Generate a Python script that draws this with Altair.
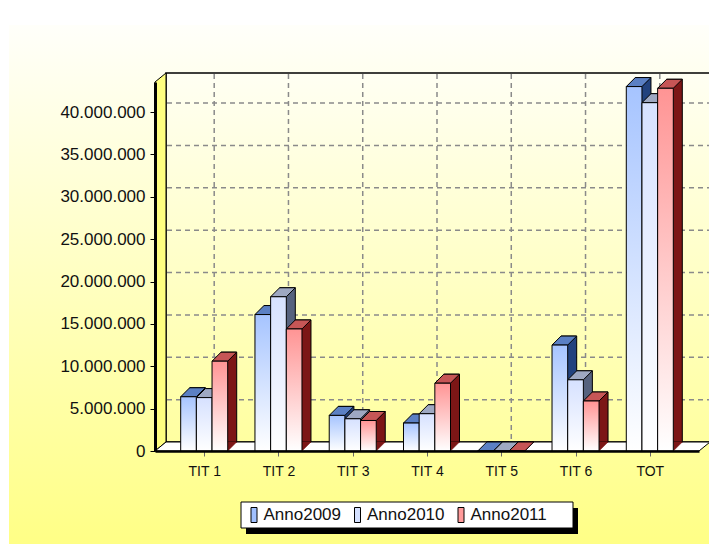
import json
import altair as alt
import pandas as pd

# ---- data ----
categories = ["TIT 1", "TIT 2", "TIT 3", "TIT 4", "TIT 5", "TIT 6", "TOT"]
series = ["Anno2009", "Anno2010", "Anno2011"]
anno2009 = [6400000, 16100000, 4200000, 3300000, 0, 12500000, 43000000]
anno2010 = [6300000, 18200000, 3800000, 4400000, 0, 8400000, 41100000]
anno2011 = [10600000, 14400000, 3600000, 8000000, 0, 5900000, 42800000]
y_ticks = [0, 5000000, 10000000, 15000000, 20000000, 25000000, 30000000, 35000000, 40000000]

front_top = ["#a6c4ff", "#d6e1ff", "#ff9494"]
side_col = ["#22427e", "#56627e", "#7c1616"]
top_col = ["#5b80c4", "#9ea8c2", "#c65656"]
swatch = ["#a0c0ff", "#d4e0ff", "#ff9a9a"]

rows = []
for si, (name, vals) in enumerate(zip(series, [anno2009, anno2010, anno2011])):
    for ci, (c, v) in enumerate(zip(categories, vals)):
        rows.append({"cat": c, "idx": ci, "series": name, "sidx": si, "value": v})
df = pd.DataFrame(rows)
cat_df = pd.DataFrame({"cat": categories, "idx": list(range(len(categories)))})
tick_df = pd.DataFrame({"v": y_ticks[1:]})
one = pd.DataFrame({"k": [0]})

GROUP = 0.633
W, H = 544, 369
D = 9          # bar depth (px)
WX, WY = 11, 9  # wall depth (px)
XDOM = [-0.6625, 6.6625]
BW = W / (XDOM[1] - XDOM[0]) * GROUP / 3   # bar width in px

xscale = alt.Scale(domain=XDOM, nice=False, zero=False)
yscale = alt.Scale(domain=[0, 43540000], nice=False)
FONT = "Liberation Sans"
xaxis = alt.Axis(values=list(range(len(categories))),
                 labelExpr=json.dumps(categories) + "[datum.value]",
                 title=None, grid=False, tickSize=5, tickColor="#666", tickWidth=1,
                 domainColor="black", domainWidth=2.5, labelFontSize=14, labelFont=FONT,
                 labelColor="#111", labelPadding=8, zindex=1)
yaxis = alt.Axis(values=y_ticks, title=None, grid=False, tickSize=5, tickColor="black",
                 domainColor="black", domainWidth=3, labelFontSize=17, labelFont=FONT,
                 labelColor="#111", labelPadding=5, zindex=1,
                 labelExpr="replace(format(datum.value, ','), regexp(',', 'g'), '.')")

def grad(top, bottom):
    return alt.Gradient(gradient="linear",
                        stops=[alt.GradientStop(color=top, offset=0),
                               alt.GradientStop(color=bottom, offset=1)],
                        x1=0, x2=0, y1=0, y2=1)

def poly(path, fill, stroke="black", sw=1):
    # custom symbol path drawn at 1px per unit (size 4 -> scale 1)
    return dict(shape=path, size=4, filled=True, fill=fill, stroke=stroke,
                strokeWidth=sw, opacity=1, fillOpacity=1, strokeOpacity=1)

# ---- decorations ----
page_bg = alt.Chart(one).mark_rect(color=grad("#fffffa", "#ffff84")).encode(
    x=alt.value(-146), x2=alt.value(560), y=alt.value(-57), y2=alt.value(470))
back_wall = alt.Chart(one).mark_rect(color=grad("#fffff3", "#ffffa0"), stroke="black",
                                     strokeWidth=1.5).encode(
    x=alt.value(WX), x2=alt.value(W + WX), y=alt.value(-WY), y2=alt.value(H - WY))
hgrid = alt.Chart(tick_df).mark_rule(color="#8a8a8a", strokeDash=[5, 4], strokeWidth=1.5,
                                     yOffset=-WY).encode(
    y=alt.Y("v:Q", scale=yscale, axis=yaxis), x=alt.value(WX + 1), x2=alt.value(W + WX - 1))
vgrid = alt.Chart(cat_df).mark_rule(color="#8a8a8a", strokeDash=[5, 4], strokeWidth=1.5,
                                    xOffset=10).encode(
    x=alt.X("idx:Q", scale=xscale, axis=xaxis), y=alt.value(-WY + 1), y2=alt.value(H - WY))
left_wall = alt.Chart(one).mark_point(
    **poly(f"M0,0L0,{-H}L{WX},{-H - WY}L{WX},{-WY}Z", "#ffff80")).encode(
    x=alt.value(0), y=alt.value(H))
floor = alt.Chart(one).mark_point(
    **poly(f"M0,0L{W},0L{W + WX},{-WY}L{WX},{-WY}Z", "white")).encode(
    x=alt.value(0), y=alt.value(H))

bars = alt.Chart(df).transform_calculate(
    x_lo=f"datum.idx - {GROUP/2} + datum.sidx * {GROUP/3}",
    x_hi=f"datum.idx - {GROUP/2} + (datum.sidx + 1) * {GROUP/3}",
)

def enc(layer):
    return layer.encode(
        x=alt.X("x_lo:Q", scale=xscale, axis=xaxis),
        x2="x_hi:Q",
        y=alt.Y("value:Q", scale=yscale, axis=yaxis),
        y2=alt.datum(0),
    )

sides, tops, fronts = [], [], []
top_path = f"M0,0L{D},{-D}L{BW + D:.2f},{-D}L{BW:.2f},0Z"
foot_path = f"M{BW:.2f},0L{BW + D:.2f},{-D}L{BW:.2f},{-D}Z"
for i, name in enumerate(series):
    b = bars.transform_filter(alt.datum.series == name)
    sides.append(enc(b.mark_rect(color=side_col[i], stroke="black", strokeWidth=1,
                                 xOffset=D, x2Offset=D,
                                 yOffset=-D, y2Offset=-D)))
    sides.append(b.mark_point(**poly(foot_path, side_col[i], stroke=side_col[i], sw=0.5)).encode(
        x=alt.X("x_lo:Q", scale=xscale, axis=xaxis),
        y=alt.Y("z:Q", scale=yscale, axis=yaxis)).transform_calculate(z="0"))
    tops.append(b.mark_point(**poly(top_path, top_col[i])).encode(
        x=alt.X("x_lo:Q", scale=xscale, axis=xaxis),
        y=alt.Y("value:Q", scale=yscale, axis=yaxis)))
    fronts.append(enc(b.mark_rect(color=grad(front_top[i], "#ffffff"), stroke="black",
                                  strokeWidth=1)))

legend_layer = alt.Chart(df).mark_point(filled=True, opacity=0).encode(
    x=alt.X("idx:Q", scale=xscale, axis=xaxis),
    y=alt.Y("value:Q", scale=yscale, axis=yaxis),
    color=alt.Color("series:N", scale=alt.Scale(domain=series, range=swatch),
                    legend=alt.Legend(
                        title=None, orient="none", legendX=86, legendY=420,
                        direction="horizontal",
                        symbolType="M-0.4,-1H0.4V1H-0.4Z", symbolSize=225,
                        symbolStrokeColor="black", symbolStrokeWidth=1, symbolOpacity=1,
                        labelFontSize=17, labelFont=FONT, labelColor="#111",
                        labelOffset=1, columnPadding=7.5, padding=4.5)))
legend_shadow = alt.Chart(one).mark_rect(color="black").encode(
    x=alt.value(91), x2=alt.value(423), y=alt.value(426), y2=alt.value(452))
legend_box = alt.Chart(one).mark_rect(color="white", stroke="black", strokeWidth=1).encode(
    x=alt.value(86), x2=alt.value(418), y=alt.value(420), y2=alt.value(446))

chart = alt.layer(page_bg, back_wall, hgrid, vgrid, left_wall, floor,
                  *sides, *tops, *fronts, legend_shadow, legend_box, legend_layer).properties(
    width=W, height=H, autosize="none",
    padding={"left": 147, "top": 74, "right": 10, "bottom": 93},
).configure_view(stroke=None)

chart.save("out.html", embed_options={"renderer": "svg", "actions": False})
